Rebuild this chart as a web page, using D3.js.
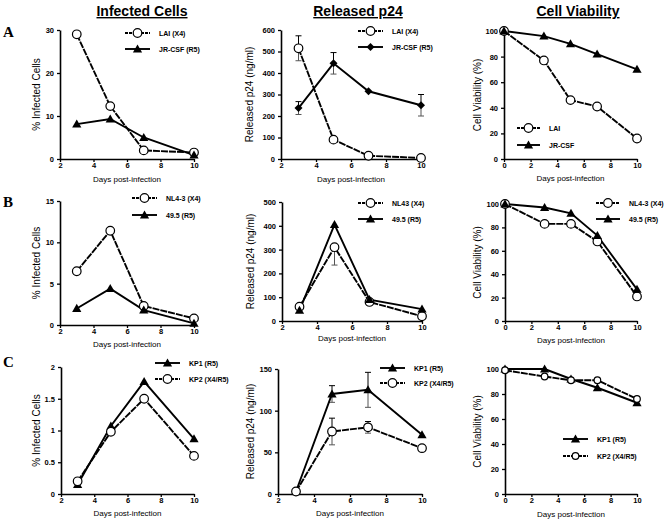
<!DOCTYPE html>
<html><head><meta charset="utf-8">
<script src="https://cdn.jsdelivr.net/npm/d3@7"></script>
<style>body{margin:0;background:#fff}svg{display:block}</style>
</head><body>
<script>
// ---------- DATA ----------
const daysInf = [3, 5, 7, 10];
const daysVia = [0, 3, 5, 7, 10];
const colTitles = ["Infected Cells", "Released p24", "Cell Viability"];
const rowLetters = ["A", "B", "C"];

// Row A
const aInfLAI = [29, 12.3, 2, 1.5];
const aInfJR = [8.1, 9.3, 5, 0.9];
const aP24LAI = [515, 90, 15, 5];
const aP24LAIErr = [58, 0, 0, 0];
const aP24JR = [237, 445, 315, 250];
const aP24JRErr = [30, 50, 0, 50];
const aViaLAI = [100, 77, 46, 41, 16];
const aViaJR = [100, 96, 90, 82, 70];

// Row B
const bInfNL = [6.5, 11.4, 2.3, 0.8];
const bInf495 = [2, 4.4, 1.8, 0.2];
const bP24NL = [60, 310, 80, 20];
const bP24NLErrLow = [0, 75, 0, 0];
const bP24495 = [45, 405, 90, 50];
const bViaNL = [100, 83, 83, 68, 21];
const bVia495 = [100, 97, 92, 73, 27];

// Row C
const cInfKP1 = [0.15, 1.07, 1.77, 0.87];
const cInfKP2 = [0.2, 0.98, 1.5, 0.6];
const cP24KP1 = [3, 120, 125, 71];
const cP24KP1Err = [0, 10, 21, 0];
const cP24KP2 = [3, 75, 80, 55];
const cP24KP2Err = [0, 16, 7, 0];
const cViaKP1 = [100, 100, 92, 85, 73];
const cViaKP2 = [99, 94, 91, 91, 76];

const ticksInf = [2, 4, 6, 8, 10];
const ticksVia = [0, 2, 4, 6, 8, 10];

// ---------- PANELS ----------
const zeros = a => a.map(() => 0);
const panels = [
 {row:0,col:0, xd:[2,10], xr:[60,194], yd:[0,30], yr:[159,30], yt:[0,10,20,30], xt:ticksInf, yl:"% Infected Cells", ylx:40,
  series:[{name:"LAI (X4)", x:daysInf, y:aInfLAI, m:"circle", dash:true},{name:"JR-CSF (R5)", x:daysInf, y:aInfJR, m:"tri"}],
  leg:{x1:125,x2:150,y:33,dy:16}, xlab:182},
 {row:0,col:1, xd:[2,10], xr:[281,421], yd:[0,600], yr:[159,30], yt:[0,100,200,300,400,500,600], xt:ticksInf, yl:"Released  p24 (ng/ml)", ylx:253,
  series:[{name:"LAI (X4)", x:daysInf, y:aP24LAI, m:"circle", dash:true, lo:aP24LAIErr, hi:aP24LAIErr},
          {name:"JR-CSF (R5)", x:daysInf, y:aP24JR, m:"diamond", lo:aP24JRErr, hi:aP24JRErr}],
  leg:{x1:358,x2:383,y:31,dy:16}, xlab:182},
 {row:0,col:2, xd:[0,10], xr:[504,637], yd:[0,100], yr:[159,31], yt:[0,20,40,60,80,100], xt:ticksVia, yl:"Cell Viability (%)", ylx:481,
  series:[{name:"LAI", x:daysVia, y:aViaLAI, m:"circle", dash:true},{name:"JR-CSF", x:daysVia, y:aViaJR, m:"tri"}],
  leg:{x1:517,x2:540,y:128,dy:17}, xlab:181},
 {row:1,col:0, xd:[2,10], xr:[60,194], yd:[0,15], yr:[325,201], yt:[0,5,10,15], xt:ticksInf, yl:"% Infected Cells", ylx:40,
  series:[{name:"NL4-3 (X4)", x:daysInf, y:bInfNL, m:"circle", dash:true},{name:"49.5 (R5)", x:daysInf, y:bInf495, m:"tri"}],
  leg:{x1:132,x2:157,y:198,dy:17}, xlab:347},
 {row:1,col:1, xd:[2,10], xr:[282,422], yd:[0,500], yr:[321,202], yt:[0,100,200,300,400,500], xt:ticksInf, yl:"Released  p24 (ng/ml)", ylx:254,
  series:[{name:"NL43 (X4)", x:daysInf, y:bP24NL, m:"circle", dash:true, lo:bP24NLErrLow, hi:zeros(bP24NL)},
          {name:"49.5 (R5)", x:daysInf, y:bP24495, m:"tri"}],
  leg:{x1:358,x2:383,y:203,dy:16}, xlab:341},
 {row:1,col:2, xd:[0,10], xr:[505,637], yd:[0,100], yr:[321,204], yt:[0,20,40,60,80,100], xt:ticksVia, yl:"Cell Viability (%)", ylx:481,
  series:[{name:"NL4-3 (X4)", x:daysVia, y:bViaNL, m:"circle", dash:true},{name:"49.5 (R5)", x:daysVia, y:bVia495, m:"tri"}],
  leg:{x1:596,x2:620,y:203,dy:16}, xlab:343},
 {row:2,col:0, xd:[2,10], xr:[61,194], yd:[0,2], yr:[494,367], yt:[0,0.5,1,1.5,2], xt:ticksInf, yl:"% Infected Cells", ylx:40,
  series:[{name:"KP1 (R5)", x:daysInf, y:cInfKP1, m:"tri"},{name:"KP2 (X4/R5)", x:daysInf, y:cInfKP2, m:"circle", dash:true}],
  leg:{x1:155,x2:180,y:363,dy:16}, xlab:516},
 {row:2,col:1, xd:[2,10], xr:[278,422], yd:[0,150], yr:[494,369], yt:[0,50,100,150], xt:ticksInf, yl:"Released p24 (ng/ml)", ylx:254,
  series:[{name:"KP1 (R5)", x:daysInf, y:cP24KP1, m:"tri", lo:cP24KP1Err, hi:cP24KP1Err},
          {name:"KP2 (X4/R5)", x:daysInf, y:cP24KP2, m:"circle", dash:true, lo:cP24KP2Err, hi:cP24KP2Err}],
  leg:{x1:380,x2:405,y:368,dy:15}, xlab:516},
 {row:2,col:2, xd:[0,10], xr:[505,637], yd:[0,100], yr:[494,369], yt:[0,20,40,60,80,100], xt:ticksVia, yl:"Cell Viability (%)", ylx:481,
  series:[{name:"KP1 (R5)", x:daysVia, y:cViaKP1, m:"tri"},{name:"KP2 (X4/R5)", x:daysVia, y:cViaKP2, m:"circle", dash:true, small:true}],
  leg:{x1:563,x2:588,y:439,dy:17}, xlab:517}
];

const svg = d3.select("body").append("svg").attr("width",666).attr("height",522)
  .style("font-family","'Liberation Sans', Arial, sans-serif");

// column titles
const titleX = [142, 358, 578];
colTitles.forEach((t,i)=>{
  svg.append("text").attr("x",titleX[i]).attr("y",16).attr("text-anchor","middle")
    .attr("font-size",14).attr("font-weight","bold").attr("text-decoration","underline").text(t);
});
const letterY = [37, 207, 367];
rowLetters.forEach((l,i)=>{
  svg.append("text").attr("x",3).attr("y",letterY[i]).attr("font-family","'Liberation Serif', serif")
    .attr("font-size",15).attr("font-weight","bold").text(l);
});

function marker(g, type, x, y, small){
  if(type==="circle"){
    g.append("circle").attr("cx",x).attr("cy",y).attr("r",small?3.3:4.3).attr("fill","#fff").attr("stroke","#000").attr("stroke-width",1.2);
  } else if(type==="tri"){
    const s=4.6;
    g.append("path").attr("d",`M${x},${y-s}L${x+s},${y+s*0.75}L${x-s},${y+s*0.75}Z`).attr("fill","#000");
  } else {
    const s=4;
    g.append("path").attr("d",`M${x},${y-s}L${x+s},${y}L${x},${y+s}L${x-s},${y}Z`).attr("fill","#000");
  }
}

const DASH = "7,1";
panels.forEach(p=>{
  const g = svg.append("g");
  const x = d3.scaleLinear().domain(p.xd).range(p.xr);
  const y = d3.scaleLinear().domain(p.yd).range(p.yr);
  const xa = g.append("g").attr("transform",`translate(0,${p.yr[0]})`)
    .call(d3.axisBottom(x).tickValues(p.xt).tickSize(3).tickSizeOuter(0).tickPadding(1));
  const ya = g.append("g").attr("transform",`translate(${p.xr[0]},0)`)
    .call(d3.axisLeft(y).tickValues(p.yt).tickSize(3).tickSizeOuter(0).tickPadding(3).tickFormat(d3.format("")));
  [xa,ya].forEach(a=>{
    a.select(".domain").attr("stroke-width",1.6);
    a.selectAll(".tick line").attr("stroke-width",1.3);
    a.selectAll("text").attr("font-size",7.5).attr("font-weight","bold").attr("font-family","'Liberation Sans', Arial, sans-serif");
  });
  // y label
  g.append("text").attr("transform",`translate(${p.ylx},${(p.yr[0]+p.yr[1])/2}) rotate(-90)`)
    .attr("text-anchor","middle").attr("font-size",10).text(p.yl);
  // x label
  g.append("text").attr("x",(p.xr[0]+p.xr[1])/2).attr("y",p.xlab).attr("text-anchor","middle")
    .attr("font-size",8).text("Days post-infection");

  const line = d3.line().x(d=>x(d[0])).y(d=>y(d[1]));
  // error bars
  p.series.forEach(s=>{
    if(!s.lo) return;
    s.x.forEach((xv,i)=>{
      const lo=s.lo[i]||0, hi=s.hi[i]||0;
      if(!lo && !hi) return;
      const cx=x(xv);
      if(hi){
        g.append("line").attr("x1",cx).attr("x2",cx).attr("y1",y(s.y[i])).attr("y2",y(s.y[i]+hi)).attr("stroke","#000").attr("stroke-width",1);
        g.append("line").attr("x1",cx-3).attr("x2",cx+3).attr("y1",y(s.y[i]+hi)).attr("y2",y(s.y[i]+hi)).attr("stroke","#000").attr("stroke-width",1);
      }
      if(lo){
        g.append("line").attr("x1",cx).attr("x2",cx).attr("y1",y(s.y[i])).attr("y2",y(s.y[i]-lo)).attr("stroke","#555").attr("stroke-width",1);
        g.append("line").attr("x1",cx-3).attr("x2",cx+3).attr("y1",y(s.y[i]-lo)).attr("y2",y(s.y[i]-lo)).attr("stroke","#555").attr("stroke-width",1);
      }
    });
  });
  p.series.forEach(s=>{
    const pts = s.x.map((xv,i)=>[xv,s.y[i]]);
    g.append("path").attr("d",line(pts)).attr("fill","none").attr("stroke","#000")
      .attr("stroke-width",1.9).attr("stroke-dasharray",s.dash?DASH:null);
  });
  p.series.forEach(s=>{
    s.x.forEach((xv,i)=>marker(g,s.m,x(xv),y(s.y[i]),s.small));
  });
  // legend
  p.series.forEach((s,k)=>{
    const ly = p.leg.y + k*p.leg.dy;
    g.append("line").attr("x1",p.leg.x1).attr("x2",p.leg.x2).attr("y1",ly).attr("y2",ly)
      .attr("stroke","#000").attr("stroke-width",1.9).attr("stroke-dasharray",s.dash?"3,1":null);
    marker(g,s.m,(p.leg.x1+p.leg.x2)/2,ly,s.small);
    g.append("text").attr("x",p.leg.x2+9).attr("y",ly+2.5).attr("font-size",7).attr("font-weight","bold").text(s.name);
  });
});
</script>
</body></html>
